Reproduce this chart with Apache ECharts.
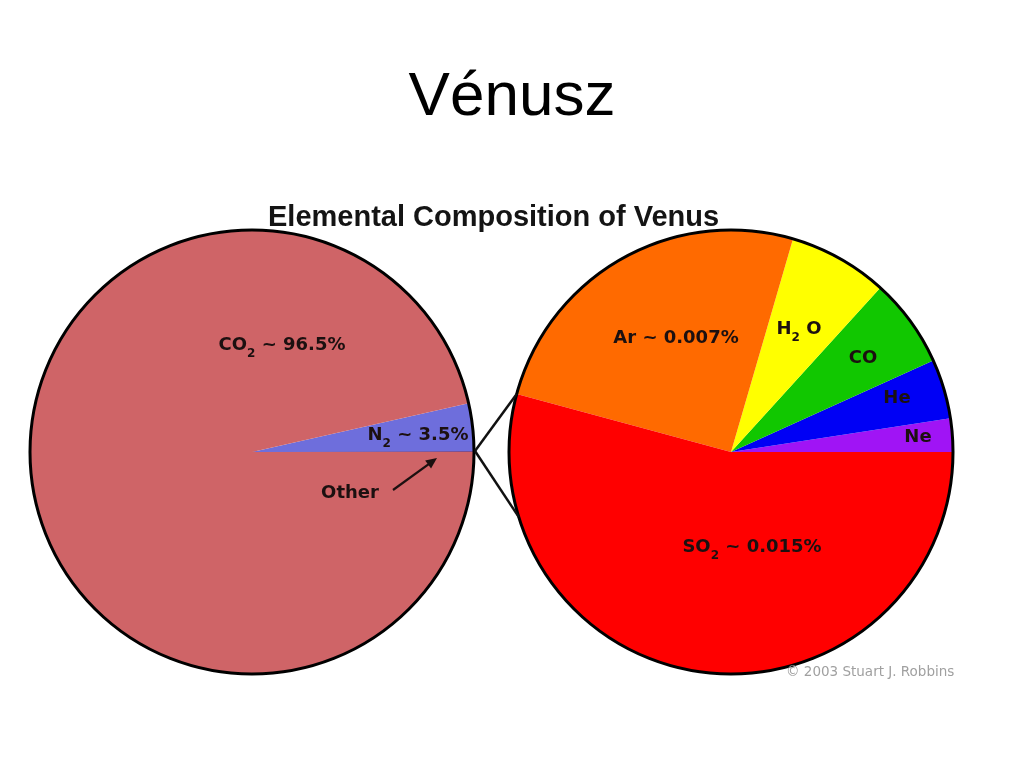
<!DOCTYPE html>
<html>
<head>
<meta charset="utf-8">
<script src="https://cdn.jsdelivr.net/npm/echarts@6/dist/echarts.min.js"></script>
<style>
html,body{margin:0;padding:0;background:#fff;}
#chart{width:1024px;height:768px;}
</style>
</head>
<body>
<div id="chart"></div>
<script>
// ---- data ----
const titleText = 'Vénusz';
const subtitleText = 'Elemental Composition of Venus';
const creditText = '© 2003 Stuart J. Robbins';

// Left pie: whole atmosphere (%)
const leftNames  = ['Other', 'N2', 'CO2'];
const leftValues = [0.03, 3.5, 96.5];
const leftLabels = ['{t|Other}', '{t|N}{s|2}{t| ~ 3.5%}', '{t|CO}{s|2}{t| ~ 96.5%}'];

// Right pie: breakdown of "Other" (%)
const rightNames  = ['Ne', 'He', 'CO', 'H2O', 'Ar', 'SO2'];
const rightValues = [0.00067, 0.0012, 0.0018, 0.002, 0.007, 0.015];
const rightLabels = ['{t|Ne}', '{t|He}', '{t|CO}', '{t|H}{s|2}{t| O}', '{t|Ar ~ 0.007%}', '{t|SO}{s|2}{t| ~ 0.015%}'];

// ---- styles / layout ----
const leftColors  = ['#8a2e3c', '#6e6edc', '#cf6467'];
const rightColors = ['#a014f5', '#0000f5', '#11c700', '#ffff00', '#ff6a00', '#ff0000'];
const R = 222;
const LC = [252, 452], RC = [731, 452];
// label anchor positions (pixels)
const leftLabelPos  = [[350, 493], [418, 435], [282, 345]];
const rightLabelPos = [[918, 437], [897, 398], [863, 358], [799, 329], [676, 338], [752, 547]];

const rich = {
  t: {fontFamily: 'DejaVu Sans', fontWeight: 'bold', fontSize: 18, color: '#1c1010', lineHeight: 22},
  s: {fontFamily: 'DejaVu Sans', fontWeight: 'bold', fontSize: 12, color: '#1c1010', lineHeight: 22, padding: [17, 0, 0, 0]}
};

function pieData(names, values, colors, labels, extraBorder) {
  return names.map((n, i) => ({
    name: n, value: values[i],
    itemStyle: Object.assign({color: colors[i]}, extraBorder && extraBorder[i] ? extraBorder[i] : {}),
    label: {formatter: labels[i]}
  }));
}

const chart = echarts.init(document.getElementById('chart'), null, {renderer: 'canvas'});

// connector geometry from the pie layout
const rightSum = rightValues.reduce((a, b) => a + b, 0);
const arEndAngle = rightValues.slice(0, 5).reduce((a, b) => a + b, 0) / rightSum * 2 * Math.PI;
const pL = [LC[0] + R + 1, LC[1] - 1];
const pTop = [RC[0] + R * Math.cos(arEndAngle), RC[1] - R * Math.sin(arEndAngle)];
const botAngle = 197 / 180 * Math.PI;
const pBot = [RC[0] + R * Math.cos(botAngle), RC[1] - R * Math.sin(botAngle)];

// arrow for "Other"
const arrowFrom = [393, 490], arrowTo = [437, 458];
const ang = Math.atan2(arrowTo[1] - arrowFrom[1], arrowTo[0] - arrowFrom[0]);
const ah = 11, aw = 5;
const head = [
  arrowTo,
  [arrowTo[0] - ah * Math.cos(ang) + aw * Math.sin(ang), arrowTo[1] - ah * Math.sin(ang) - aw * Math.cos(ang)],
  [arrowTo[0] - ah * Math.cos(ang) - aw * Math.sin(ang), arrowTo[1] - ah * Math.sin(ang) + aw * Math.cos(ang)]
];

const option = {
  backgroundColor: '#fff',
  animation: false,
  title: [
    {text: titleText, left: 'center', top: 67, padding: 0,
     textStyle: {fontFamily: 'Liberation Sans', fontSize: 62, fontWeight: 'normal', color: '#000'}},
    {text: subtitleText, left: 268, top: 203, padding: 0,
     textStyle: {fontFamily: 'Liberation Sans', fontSize: 29, fontWeight: 'bold', color: '#141414'}},
    {text: creditText, left: 786, top: 665, padding: 0,
     textStyle: {fontFamily: 'DejaVu Sans', fontSize: 13.5, fontWeight: 'normal', color: '#a0a0a0'}}
  ],
  series: [
    {
      type: 'pie', center: LC, radius: R, startAngle: 0, clockwise: false,
      minAngle: 0, avoidLabelOverlap: false, silent: true,
      label: {show: true, position: 'inside', rich: rich},
      labelLine: {show: false},
      labelLayout: p => ({x: leftLabelPos[p.dataIndex][0], y: leftLabelPos[p.dataIndex][1], align: 'center', verticalAlign: 'middle'}),
      itemStyle: {borderWidth: 0},
      data: pieData(leftNames, leftValues, leftColors, leftLabels, [{borderColor: '#8a2e3c', borderWidth: 1.2}, null, null])
    },
    {
      type: 'pie', center: RC, radius: R, startAngle: 0, clockwise: false,
      minAngle: 0, avoidLabelOverlap: false, silent: true,
      label: {show: true, position: 'inside', rich: rich},
      labelLine: {show: false},
      labelLayout: p => ({x: rightLabelPos[p.dataIndex][0], y: rightLabelPos[p.dataIndex][1], align: 'center', verticalAlign: 'middle'}),
      itemStyle: {borderWidth: 0},
      data: pieData(rightNames, rightValues, rightColors, rightLabels)
    },
    {
      type: 'pie', center: LC, radius: R, silent: true, label: {show: false}, labelLine: {show: false},
      itemStyle: {color: 'rgba(0,0,0,0)', borderColor: '#000', borderWidth: 3},
      data: [{value: 1, name: 'outlineL'}]
    },
    {
      type: 'pie', center: RC, radius: R, silent: true, label: {show: false}, labelLine: {show: false},
      itemStyle: {color: 'rgba(0,0,0,0)', borderColor: '#000', borderWidth: 3},
      data: [{value: 1, name: 'outlineR'}]
    }
  ],
  graphic: [
    {type: 'line', shape: {x1: pL[0], y1: pL[1], x2: pTop[0], y2: pTop[1]}, style: {stroke: '#111', lineWidth: 2.5}, z: 10},
    {type: 'line', shape: {x1: pL[0], y1: pL[1], x2: pBot[0], y2: pBot[1]}, style: {stroke: '#111', lineWidth: 2.5}, z: 10},
    {type: 'line', shape: {x1: arrowFrom[0], y1: arrowFrom[1], x2: arrowTo[0] - 6 * Math.cos(ang), y2: arrowTo[1] - 6 * Math.sin(ang)}, style: {stroke: '#1c1010', lineWidth: 2.2}, z: 10},
    {type: 'polygon', shape: {points: head}, style: {fill: '#1c1010'}, z: 10}
  ]
};
chart.setOption(option);
</script>
</body>
</html>
